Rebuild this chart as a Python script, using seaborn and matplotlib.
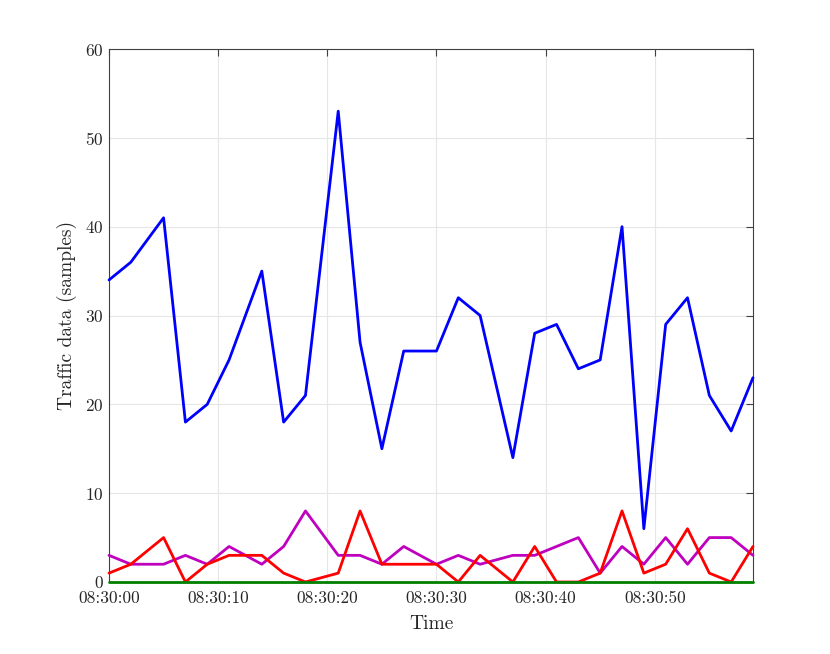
import matplotlib
matplotlib.use("Agg")
import matplotlib.pyplot as plt
import seaborn as sns
import pandas as pd

# sample times (seconds after 08:30:00)
seconds = [0, 2, 5, 7, 9, 11, 14, 16, 18, 21, 23, 25, 27, 30, 32, 34, 37, 39,
           41, 43, 45, 47, 49, 51, 53, 55, 57, 59]
blue_vals = [34, 36, 41, 18, 20, 25, 35, 18, 21, 53, 27, 15, 26, 26, 32, 30, 14, 28,
             29, 24, 25, 40, 6, 29, 32, 21, 17, 23]
magenta_vals = [3, 2, 2, 3, 2, 4, 2, 4, 8, 3, 3, 2, 4, 2, 3, 2, 3, 3,
                4, 5, 1, 4, 2, 5, 2, 5, 5, 3]
red_vals = [1, 2, 5, 0, 2, 3, 3, 1, 0, 1, 8, 2, 2, 2, 0, 3, 0, 4,
            0, 0, 1, 8, 1, 2, 6, 1, 0, 4]
green_vals = [0] * 28
series_names = ["s1", "s2", "s3", "s4"]
series_colors = ["#0000ff", "#bf00bf", "#ff0000", "#008000"]
xtick_pos = [0, 10, 20, 30, 40, 50]
xtick_labels = ["08:30:00", "08:30:10", "08:30:20", "08:30:30", "08:30:40", "08:30:50"]
yticks = [0, 10, 20, 30, 40, 50, 60]

sns.set_theme(style="white")
plt.rcParams["font.family"] = ["cmr10", "DejaVu Serif"]
plt.rcParams["axes.formatter.use_mathtext"] = True

df = pd.concat([
    pd.DataFrame({"t": seconds, "v": vals, "series": name})
    for name, vals in zip(series_names, [blue_vals, magenta_vals, red_vals, green_vals])
])

fig = plt.figure(figsize=(8.3, 6.54), dpi=100)
ax = fig.add_axes([109/830, 1-582/654, (753-109)/830, (582-49)/654])
sns.lineplot(data=df, x="t", y="v", hue="series", palette=series_colors,
             hue_order=series_names, linewidth=2.0, legend=False, ax=ax, sort=False)
for ln in ax.lines:
    ln.set_clip_on(False)
    ln.set_zorder(3)

ax.set_xlim(seconds[0], seconds[-1])
ax.set_ylim(0, 60)
ax.set_xticks(xtick_pos)
ax.set_xticklabels(xtick_labels)
ax.set_yticks(yticks)
ax.grid(True, color="#e6e6e6", linewidth=0.8)
ax.set_axisbelow(True)
for sp in ax.spines.values():
    sp.set_visible(True)
    sp.set_color("#404040")
    sp.set_linewidth(0.8)
    sp.set_zorder(2.5)
ax.tick_params(direction="in", length=5, width=0.8, color="#404040",
               top=True, right=True, labelsize=12.5, labelcolor="#262626", pad=4)
ax.tick_params(axis="x", pad=6)
ax.set_xlabel("Time", fontsize=14, color="#262626", labelpad=7)
ax.set_ylabel("Traffic data (samples)", fontsize=14, color="#262626", labelpad=6)

fig.savefig("out.png", dpi=100, facecolor="white")
